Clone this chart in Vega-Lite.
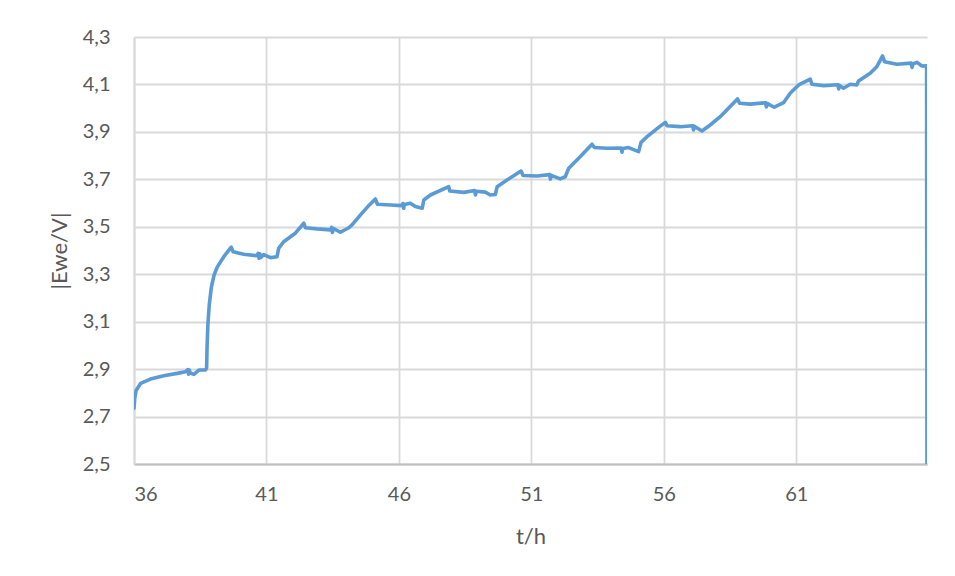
{
  "$schema": "https://vega.github.io/schema/vega-lite/v6.json",
  "autosize": {"type": "none"},
  "padding": {"left": 134, "top": 37, "right": 28, "bottom": 112},
  "width": 793,
  "height": 427,
  "background": "white",
  "config": {
    "view": {"stroke": null},
    "font": "Lato",
    "axis": {"labelFont": "Lato", "titleFont": "Lato", "labelColor": "#595959", "titleColor": "#595959", "titleFontWeight": "normal"}
  },
  "data": {
    "values": [
      {"t": 36.0, "v": 2.735},
      {"t": 36.03, "v": 2.78},
      {"t": 36.08, "v": 2.81},
      {"t": 36.25, "v": 2.84},
      {"t": 36.62, "v": 2.858},
      {"t": 37.12, "v": 2.872},
      {"t": 37.63, "v": 2.882},
      {"t": 37.94, "v": 2.889},
      {"t": 38.03, "v": 2.898},
      {"t": 38.06, "v": 2.879},
      {"t": 38.09, "v": 2.896},
      {"t": 38.12, "v": 2.884},
      {"t": 38.26, "v": 2.878},
      {"t": 38.45, "v": 2.896},
      {"t": 38.7, "v": 2.896},
      {"t": 38.74, "v": 2.905},
      {"t": 38.76, "v": 3.0},
      {"t": 38.79, "v": 3.09},
      {"t": 38.84, "v": 3.17},
      {"t": 38.92, "v": 3.245},
      {"t": 39.02, "v": 3.295},
      {"t": 39.14, "v": 3.33},
      {"t": 39.39, "v": 3.374},
      {"t": 39.67, "v": 3.414},
      {"t": 39.74, "v": 3.395},
      {"t": 40.14, "v": 3.384},
      {"t": 40.65, "v": 3.378},
      {"t": 40.69, "v": 3.388},
      {"t": 40.72, "v": 3.367},
      {"t": 40.75, "v": 3.386},
      {"t": 40.8, "v": 3.371},
      {"t": 40.9, "v": 3.383},
      {"t": 41.15, "v": 3.37},
      {"t": 41.4, "v": 3.374},
      {"t": 41.46, "v": 3.409},
      {"t": 41.65, "v": 3.437},
      {"t": 42.09, "v": 3.473},
      {"t": 42.41, "v": 3.515},
      {"t": 42.47, "v": 3.496},
      {"t": 42.91, "v": 3.491},
      {"t": 43.42, "v": 3.487},
      {"t": 43.46, "v": 3.497},
      {"t": 43.49, "v": 3.476},
      {"t": 43.52, "v": 3.493},
      {"t": 43.79, "v": 3.477},
      {"t": 44.11, "v": 3.496},
      {"t": 44.23, "v": 3.508},
      {"t": 44.55, "v": 3.55},
      {"t": 44.81, "v": 3.583},
      {"t": 45.11, "v": 3.617},
      {"t": 45.19, "v": 3.595},
      {"t": 45.68, "v": 3.592},
      {"t": 46.12, "v": 3.589},
      {"t": 46.15, "v": 3.598},
      {"t": 46.18, "v": 3.578},
      {"t": 46.21, "v": 3.594},
      {"t": 46.43, "v": 3.599},
      {"t": 46.62, "v": 3.585},
      {"t": 46.88, "v": 3.578},
      {"t": 46.94, "v": 3.613},
      {"t": 47.19, "v": 3.634},
      {"t": 47.88, "v": 3.669},
      {"t": 47.92, "v": 3.651},
      {"t": 48.45, "v": 3.645},
      {"t": 48.86, "v": 3.653},
      {"t": 48.89, "v": 3.634},
      {"t": 48.92, "v": 3.65},
      {"t": 49.26, "v": 3.646},
      {"t": 49.45, "v": 3.634},
      {"t": 49.64, "v": 3.636},
      {"t": 49.71, "v": 3.669},
      {"t": 50.08, "v": 3.697},
      {"t": 50.61, "v": 3.735},
      {"t": 50.69, "v": 3.716},
      {"t": 51.22, "v": 3.714},
      {"t": 51.69, "v": 3.72},
      {"t": 51.72, "v": 3.701},
      {"t": 51.75, "v": 3.717},
      {"t": 52.09, "v": 3.702},
      {"t": 52.28, "v": 3.711},
      {"t": 52.41, "v": 3.747},
      {"t": 52.85, "v": 3.796},
      {"t": 53.29, "v": 3.848},
      {"t": 53.38, "v": 3.834},
      {"t": 53.86, "v": 3.831},
      {"t": 54.39, "v": 3.832},
      {"t": 54.42, "v": 3.814},
      {"t": 54.45, "v": 3.83},
      {"t": 54.67, "v": 3.834},
      {"t": 55.05, "v": 3.817},
      {"t": 55.14, "v": 3.856},
      {"t": 55.37, "v": 3.88},
      {"t": 55.84, "v": 3.922},
      {"t": 56.06, "v": 3.94},
      {"t": 56.12, "v": 3.926},
      {"t": 56.62, "v": 3.922},
      {"t": 57.09, "v": 3.926},
      {"t": 57.12, "v": 3.908},
      {"t": 57.15, "v": 3.924},
      {"t": 57.44, "v": 3.904},
      {"t": 57.75, "v": 3.929},
      {"t": 58.13, "v": 3.964},
      {"t": 58.78, "v": 4.039},
      {"t": 58.86, "v": 4.021},
      {"t": 59.26, "v": 4.017},
      {"t": 59.84, "v": 4.023},
      {"t": 59.87, "v": 4.005},
      {"t": 59.9, "v": 4.02},
      {"t": 60.17, "v": 4.004},
      {"t": 60.52, "v": 4.023},
      {"t": 60.77, "v": 4.063},
      {"t": 61.09, "v": 4.098},
      {"t": 61.53, "v": 4.122},
      {"t": 61.59, "v": 4.101},
      {"t": 62.03, "v": 4.095},
      {"t": 62.57, "v": 4.099},
      {"t": 62.6, "v": 4.081},
      {"t": 62.63, "v": 4.096},
      {"t": 62.78, "v": 4.084},
      {"t": 63.04, "v": 4.101},
      {"t": 63.29, "v": 4.098},
      {"t": 63.35, "v": 4.115},
      {"t": 63.79, "v": 4.147},
      {"t": 64.04, "v": 4.175},
      {"t": 64.26, "v": 4.22},
      {"t": 64.33, "v": 4.196},
      {"t": 64.8, "v": 4.185},
      {"t": 65.34, "v": 4.19},
      {"t": 65.37, "v": 4.172},
      {"t": 65.4, "v": 4.186},
      {"t": 65.56, "v": 4.193},
      {"t": 65.74, "v": 4.178},
      {"t": 65.92, "v": 4.179},
      {"t": 65.935, "v": 2.3}
    ]
  },
  "mark": {"type": "line", "color": "#5b9bd5", "strokeWidth": 3.6, "clip": true, "strokeJoin": "round", "strokeCap": "round"},
  "encoding": {
    "x": {
      "field": "t", "type": "quantitative",
      "scale": {"domain": [36, 65.935], "nice": false, "zero": false},
      "axis": {
        "title": "t/h", "values": [36, 41, 46, 51, 56, 61], "format": "d",
        "ticks": false, "labelPadding": 20, "labelFontSize": 20, "labelBaseline": "top",
        "domainColor": "#bfbfbf", "domainWidth": 2,
        "gridColor": "#d9d9d9", "gridWidth": 1.8,
        "titleFontSize": 22, "titleX": 396.5, "titleY": 79, "titleBaseline": "alphabetic", "titleAlign": "center"
      }
    },
    "y": {
      "field": "v", "type": "quantitative",
      "scale": {"domain": [2.5, 4.3], "nice": false, "zero": false},
      "axis": {
        "title": "|Ewe/V|", "values": [2.5, 2.7, 2.9, 3.1, 3.3, 3.5, 3.7, 3.9, 4.1, 4.3],
        "labelExpr": "replace(format(datum.value, '.1f'), '.', ',')",
        "ticks": false, "labelPadding": 24, "labelFontSize": 20,
        "domainColor": "#d9d9d9", "domainWidth": 2,
        "gridColor": "#d9d9d9", "gridWidth": 1.8,
        "titleFontSize": 22, "titleX": -68, "titleY": 213.5, "titleBaseline": "alphabetic", "titleAlign": "center", "titleAngle": -90
      }
    }
  }
}
